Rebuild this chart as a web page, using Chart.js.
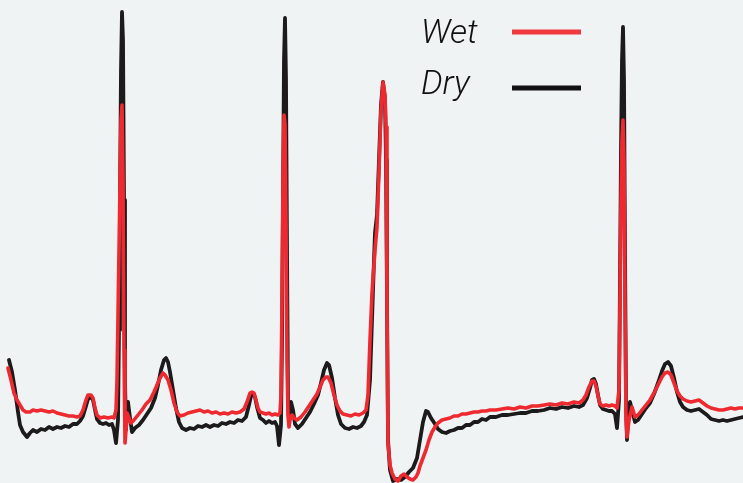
<!DOCTYPE html>
<html>
<head>
<meta charset="utf-8">
<script src="https://cdn.jsdelivr.net/npm/chart.js@4"></script>
<style>
  html, body { margin: 0; padding: 0; background: #eff3f4; }
  #wrap { width: 743px; height: 483px; position: relative; }
</style>
</head>
<body>
<div id="wrap"><canvas id="c" width="743" height="483"></canvas></div>
<script>
// ECG traces: time in ms, amplitude in mV
const dryTime = [36,48,60,72,80,92,108,120,132,148,164,180,196,212,228,244,260,276,292,308,320,332,344,352,364,372,380,388,400,412,424,436,448,456,464,472,476,480,484,488,492,496,500,504,508,512,520,528,540,556,572,588,604,620,632,644,656,664,672,680,692,704,716,728,744,760,776,792,808,824,840,856,872,888,904,920,936,952,968,984,996,1004,1012,1020,1028,1040,1052,1064,1076,1088,1100,1108,1116,1124,1128,1132,1136,1140,1144,1148,1152,1156,1164,1172,1180,1192,1208,1224,1240,1256,1272,1284,1296,1308,1316,1328,1340,1352,1364,1380,1396,1412,1428,1444,1456,1468,1480,1488,1496,1500,1508,1516,1524,1532,1540,1544,1548,1552,1560,1572,1588,1604,1620,1636,1652,1668,1680,1692,1704,1712,1724,1740,1752,1768,1784,1800,1816,1832,1848,1864,1880,1896,1912,1928,1944,1960,1984,2008,2032,2056,2080,2104,2128,2152,2176,2200,2224,2248,2272,2296,2316,2332,2348,2360,2368,2376,2384,2392,2400,2412,2424,2436,2448,2460,2468,2476,2480,2484,2488,2492,2496,2500,2504,2508,2512,2520,2528,2540,2552,2568,2584,2600,2616,2632,2648,2660,2672,2684,2696,2708,2720,2732,2748,2764,2780,2796,2812,2828,2844,2860,2876,2892,2908,2924,2940,2956,2972];
const dryMv = [0.60,0.48,0.30,0.08,-0.05,-0.12,-0.17,-0.13,-0.10,-0.12,-0.09,-0.10,-0.07,-0.09,-0.07,-0.08,-0.06,-0.07,-0.04,-0.04,-0.01,0.04,0.14,0.21,0.23,0.20,0.10,0.01,-0.03,-0.04,-0.03,-0.05,-0.04,-0.10,-0.23,0.00,0.90,2.20,3.50,4.08,3.80,2.20,0.40,-0.10,0.10,0.18,0.02,-0.12,-0.08,-0.05,0.00,0.06,0.12,0.22,0.35,0.50,0.60,0.62,0.58,0.48,0.30,0.12,-0.02,-0.08,-0.10,-0.08,-0.09,-0.06,-0.07,-0.05,-0.07,-0.05,-0.06,-0.03,-0.04,-0.02,-0.03,0.00,-0.01,0.03,0.15,0.24,0.26,0.23,0.13,0.02,0.00,-0.03,-0.01,-0.03,-0.02,-0.06,-0.25,-0.05,0.80,2.20,3.60,4.02,3.40,1.70,0.20,0.00,0.18,0.10,-0.04,-0.08,-0.04,0.02,0.08,0.16,0.25,0.37,0.50,0.57,0.55,0.42,0.22,0.05,-0.04,-0.08,-0.09,-0.07,-0.08,-0.06,-0.02,0.05,0.40,1.00,1.60,1.87,2.05,2.60,3.15,3.38,3.20,2.60,1.20,-0.20,-0.50,-0.61,-0.59,-0.60,-0.57,-0.52,-0.48,-0.38,-0.20,-0.02,0.09,0.08,0.02,-0.04,-0.09,-0.12,-0.13,-0.11,-0.10,-0.08,-0.08,-0.05,-0.05,-0.02,-0.02,0.01,0.00,0.03,0.03,0.05,0.05,0.06,0.07,0.07,0.09,0.09,0.10,0.12,0.11,0.13,0.12,0.14,0.13,0.15,0.22,0.32,0.40,0.41,0.36,0.25,0.15,0.11,0.10,0.09,0.09,0.06,-0.08,0.20,1.40,2.70,3.60,3.93,3.40,1.70,0.20,-0.20,0.00,0.18,0.10,-0.02,0.00,0.06,0.12,0.17,0.26,0.37,0.49,0.56,0.58,0.54,0.42,0.28,0.18,0.13,0.10,0.09,0.10,0.11,0.08,0.05,0.01,0.00,-0.01,0.00,-0.01,0.00,0.01,0.02,0.03];

const wetTime = [32,44,56,68,80,92,104,120,132,148,164,180,196,212,228,244,260,276,292,308,320,332,344,352,364,372,380,388,400,416,432,448,456,464,468,476,484,488,492,496,500,504,508,516,524,536,552,568,584,600,616,628,640,652,660,672,684,696,708,720,736,752,768,784,800,816,832,848,864,880,896,912,928,944,960,976,988,1000,1008,1016,1024,1032,1040,1052,1064,1076,1088,1100,1112,1120,1124,1128,1132,1136,1140,1144,1148,1152,1156,1160,1168,1176,1188,1204,1220,1236,1252,1268,1280,1292,1304,1312,1324,1336,1348,1360,1372,1388,1404,1420,1436,1452,1464,1472,1480,1488,1500,1508,1516,1524,1532,1540,1544,1548,1552,1560,1568,1580,1592,1604,1616,1628,1640,1652,1664,1672,1680,1692,1704,1716,1728,1740,1752,1768,1784,1800,1816,1832,1848,1864,1880,1896,1912,1928,1944,1960,1984,2008,2032,2056,2080,2104,2128,2152,2176,2200,2224,2248,2272,2296,2316,2332,2344,2356,2368,2376,2384,2392,2400,2412,2424,2436,2448,2460,2468,2476,2480,2484,2488,2492,2496,2500,2504,2508,2516,2528,2540,2552,2568,2584,2600,2616,2632,2648,2660,2672,2684,2696,2708,2720,2732,2748,2764,2780,2796,2812,2828,2844,2860,2876,2892,2908,2924,2940,2956,2972];
const wetMv = [0.52,0.40,0.27,0.20,0.15,0.10,0.08,0.08,0.10,0.09,0.10,0.09,0.08,0.09,0.07,0.06,0.05,0.04,0.04,0.03,0.04,0.10,0.20,0.25,0.25,0.22,0.12,0.05,0.02,0.03,0.02,0.03,0.02,0.10,0.40,1.70,3.00,3.15,2.40,0.70,-0.23,-0.10,0.07,0.02,-0.03,0.00,0.05,0.10,0.16,0.20,0.28,0.35,0.42,0.47,0.45,0.40,0.30,0.17,0.08,0.04,0.05,0.07,0.08,0.09,0.10,0.08,0.09,0.07,0.08,0.06,0.07,0.06,0.08,0.07,0.08,0.11,0.18,0.27,0.28,0.27,0.20,0.12,0.08,0.07,0.06,0.07,0.05,0.06,0.05,0.07,0.25,1.20,2.40,3.05,2.95,2.00,0.60,0.05,-0.07,0.00,0.05,0.02,0.00,0.03,0.08,0.14,0.20,0.26,0.33,0.40,0.43,0.43,0.37,0.25,0.15,0.09,0.06,0.05,0.04,0.06,0.05,0.07,0.10,0.25,0.80,1.27,1.70,1.93,2.50,3.10,3.38,3.25,2.93,1.20,-0.23,-0.45,-0.53,-0.59,-0.61,-0.56,-0.54,-0.57,-0.59,-0.60,-0.57,-0.53,-0.46,-0.38,-0.30,-0.20,-0.12,-0.07,-0.03,0.00,0.01,0.02,0.04,0.04,0.06,0.06,0.07,0.08,0.08,0.09,0.09,0.10,0.10,0.11,0.12,0.11,0.13,0.12,0.14,0.14,0.15,0.16,0.15,0.17,0.16,0.18,0.17,0.20,0.25,0.33,0.39,0.39,0.34,0.24,0.16,0.14,0.15,0.14,0.15,0.14,0.12,0.30,1.20,2.20,2.80,3.00,2.60,1.20,0.00,-0.17,0.00,0.13,0.03,0.05,0.10,0.15,0.20,0.27,0.35,0.43,0.47,0.48,0.45,0.37,0.29,0.24,0.21,0.19,0.18,0.19,0.20,0.17,0.14,0.12,0.11,0.10,0.10,0.11,0.12,0.11,0.12,0.12];

const seriesLabels = ['Wet', 'Dry'];
const seriesColors = ['#ee2a30', '#1c1a1b'];

function pts(t, v) { return t.map((x, i) => ({ x: x, y: v[i] })); }

const legendPlugin = {
  id: 'rightLegend',
  afterDraw(chart) {
    const ctx = chart.ctx;
    ctx.save();
    const rows = [
      { label: seriesLabels[0], color: '#f0393e', y: 32, base: 43 },
      { label: seriesLabels[1], color: '#111111', y: 88, base: 94 }
    ];
    rows.forEach(r => {
      ctx.font = 'italic 300 34px Roboto, "Open Sans", sans-serif';
      ctx.fillStyle = '#111111';
      ctx.textBaseline = 'alphabetic';
      ctx.textAlign = 'left';
      ctx.fillText(r.label, 421, r.base);
      ctx.strokeStyle = r.color;
      ctx.lineWidth = 5;
      ctx.beginPath();
      ctx.moveTo(512, r.y);
      ctx.lineTo(581, r.y);
      ctx.stroke();
    });
    ctx.restore();
  }
};

new Chart(document.getElementById('c'), {
  type: 'line',
  data: {
    datasets: [
      { label: seriesLabels[0], data: pts(wetTime, wetMv), borderColor: seriesColors[0], borderWidth: 3.6, pointRadius: 0, tension: 0, borderJoinStyle: 'round', borderCapStyle: 'round', order: 1 },
      { label: seriesLabels[1], data: pts(dryTime, dryMv), borderColor: seriesColors[1], borderWidth: 3.8, pointRadius: 0, tension: 0, borderJoinStyle: 'round', borderCapStyle: 'round', order: 2 }
    ]
  },
  options: {
    responsive: false,
    animation: false,
    devicePixelRatio: 1,
    layout: { padding: 0 },
    plugins: { legend: { display: false }, tooltip: { enabled: false } },
    scales: {
      x: { type: 'linear', min: 0, max: 2972, display: false },
      y: { type: 'linear', min: -0.63, max: 4.20, display: false }
    }
  },
  plugins: [legendPlugin]
});
</script>
</body>
</html>
